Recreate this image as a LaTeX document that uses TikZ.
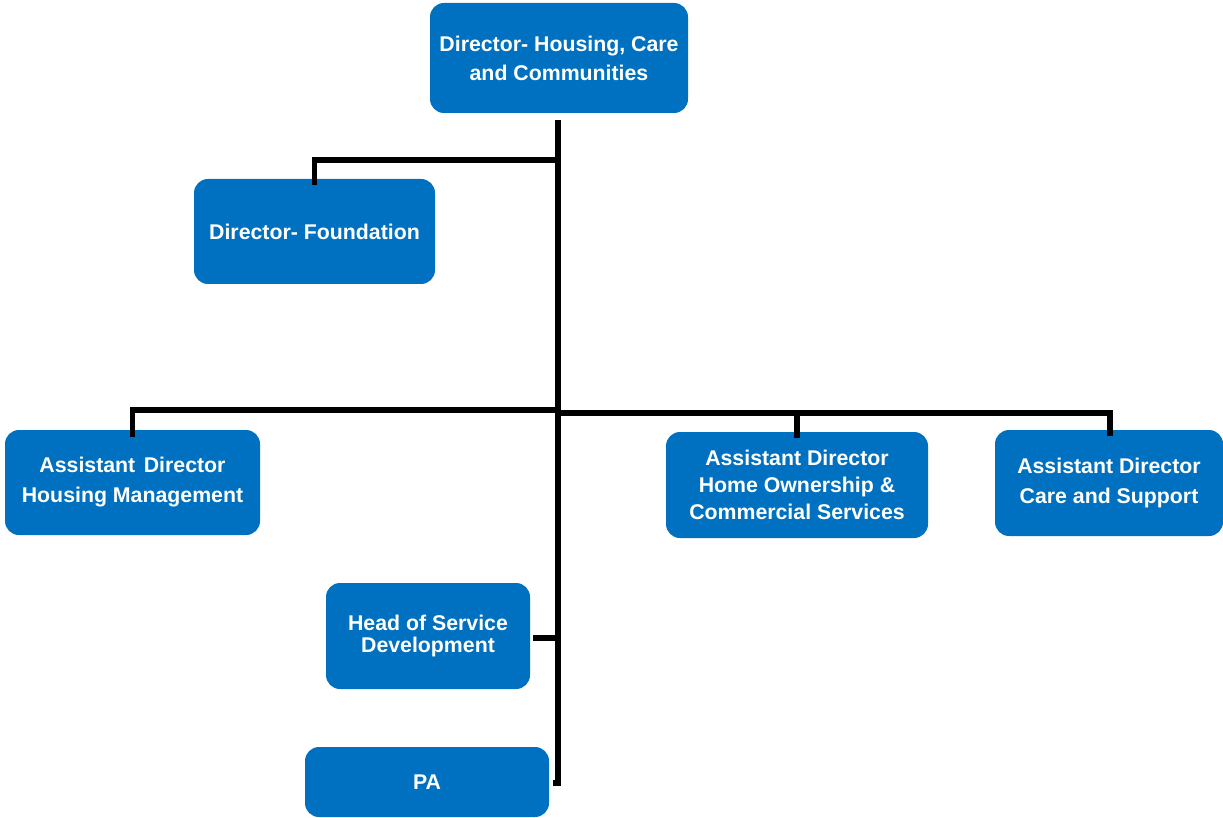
\documentclass[tikz,border=0pt]{standalone}
\usepackage{fontspec}
\setmainfont{Liberation Sans}
\definecolor{boxblue}{RGB}{0,112,192}
\begin{document}
\begin{tikzpicture}[x=1pt,y=-1pt,
  box/.style={fill=boxblue, rounded corners=14pt, text=white, align=center,
    inner sep=0pt, font=\bfseries\fontsize{21.3}{29}\selectfont},
  conn/.style={line width=5.5pt, line join=miter, line cap=butt}]
\useasboundingbox (0,0) rectangle (1223,818);

% boxes
\node[box, minimum width=258pt, minimum height=110pt] (top) at (559,58)
  {Director- Housing, Care\\and Communities};
\node[box, minimum width=241pt, minimum height=105pt] (found) at (314.5,231.5)
  {Director- Foundation};
\node[box, minimum width=255pt, minimum height=105pt,
  font=\bfseries\fontsize{21.3}{30}\selectfont] (hm) at (132.5,482.5)
  {Assistant\hspace{0.4em}Director\\Housing Management};
\node[box, minimum width=262pt, minimum height=106pt,
  font=\bfseries\fontsize{21.3}{27}\selectfont] (ho) at (797,485)
  {Assistant Director\\Home Ownership \&\\Commercial Services};
\node[box, minimum width=228pt, minimum height=106pt,
  font=\bfseries\fontsize{21.3}{30}\selectfont] (cs) at (1109,483)
  {Assistant Director\\Care and Support};
\node[box, minimum width=204pt, minimum height=106pt,
  font=\bfseries\fontsize{21.3}{22}\selectfont] (hsd) at (428,636)
  {Head of Service\\Development};
\node[box, minimum width=244pt, minimum height=70pt] (pa) at (427,782)
  {PA};

% reporting lines
\coordinate (trunkTop) at (558,120);
\coordinate (trunkEnd) at (558,783);
\coordinate (jFound) at (558,160);
\coordinate (jLeft) at (558,410);
\coordinate (jRight) at (558,413);
\coordinate (jHsd) at (558,638);

\draw[conn] (trunkTop) -- (trunkEnd) -- ++(-5,0);
\draw[conn] (jFound) -| ([yshift=-6pt]found.north);
\draw[conn] (jLeft) -| ([yshift=-7pt]hm.north);
\draw[conn] (jRight) -| ([yshift=-6pt]cs.north -| 1110,0);
\draw[conn] (jRight -| ho.north) -- ([yshift=-6pt]ho.north);
\draw[conn] ([xshift=3pt]hsd.east |- jHsd) -- (jHsd);
\end{tikzpicture}
\end{document}
